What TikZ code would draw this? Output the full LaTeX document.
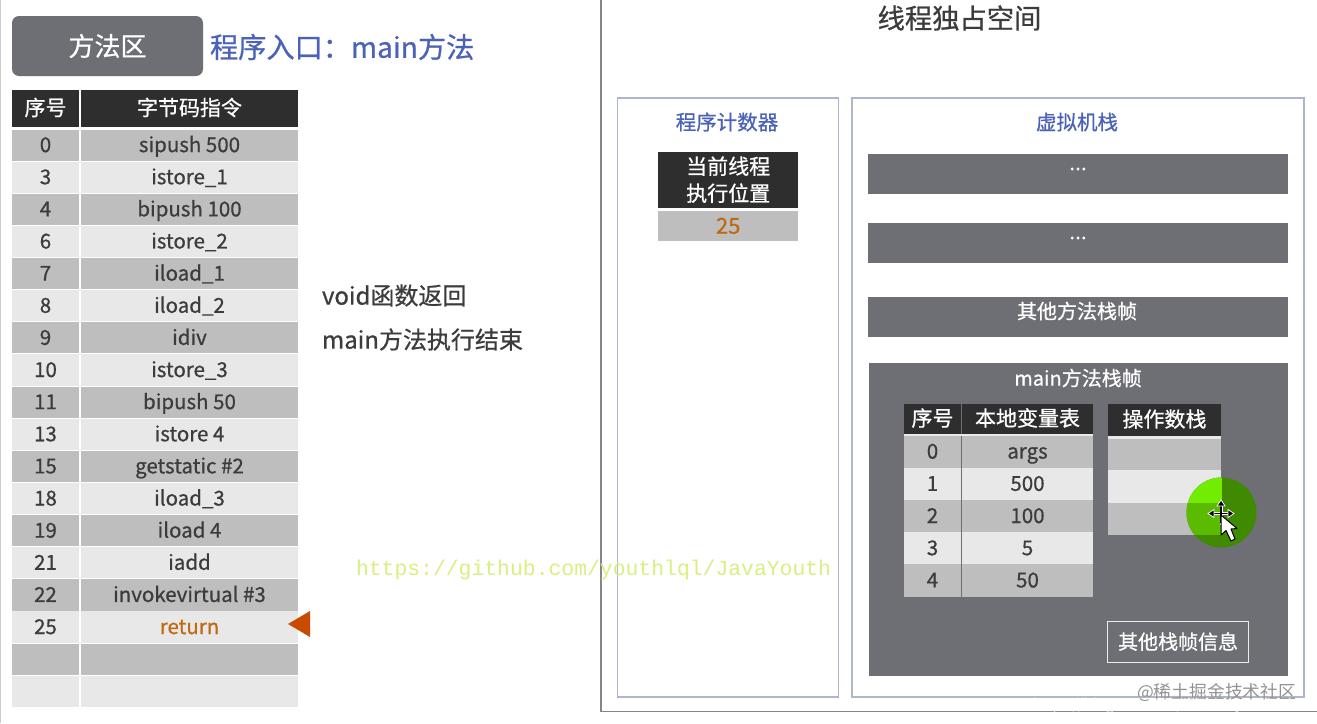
\documentclass[tikz,border=0pt]{standalone}
\usepackage{fontspec}
\setmainfont[RawFeature={embolden=0.7}]{Noto Sans CJK SC}
\newfontfamily\monof{Liberation Mono}
\newfontfamily\wmfont{Noto Sans CJK SC}
\definecolor{hdr}{HTML}{2E2E2E}
\definecolor{rowd}{HTML}{BEBEBE}
\definecolor{rowl}{HTML}{E8E8E8}
\definecolor{frame}{HTML}{6E6F75}
\definecolor{ink}{HTML}{3C3C3C}
\definecolor{bluet}{HTML}{4A62B8}
\definecolor{orangeT}{HTML}{BF6A10}
\definecolor{arrowc}{HTML}{C84B00}
\definecolor{boxline}{HTML}{AEB6CE}
\definecolor{outerl}{HTML}{85858A}
\definecolor{gbright}{HTML}{72EC00}
\definecolor{gmid}{HTML}{5BBB00}
\definecolor{gdark}{HTML}{3F8A00}
\definecolor{ghub}{HTML}{D8F080}
\tikzset{
 x=1pt,y=-1pt,
 grey/.style={inner sep=0pt,outer sep=0pt,anchor=north west,fill=frame,text=white,font=\fontsize{19}{22}\selectfont},
 panel/.style={draw=boxline,line width=1.2pt,inner sep=0pt,outer sep=0pt,anchor=north west,fill=white},
 lbl/.style={inner sep=0pt,outer sep=0pt},
}
\newcommand{\tb}[7]{% name x y w h fill text
 \node[inner sep=0pt,outer sep=0pt,anchor=north west,fill=#6,minimum width=#4,minimum height=#5,text height=14pt,text depth=0pt,text=ink,font=\fontsize{20.5}{24}\selectfont] (#1) at (#2,#3) {#7};}
\begin{document}
\begin{tikzpicture}
\useasboundingbox (0,0) rectangle (1317,723);
\fill[white] (0,0) rectangle (1317,723);
\draw[color=gray!40,line width=1pt] (0.5,0) -- (0.5,723);
% method area title
\node[grey,rounded corners=7pt,minimum width=191pt,minimum height=60pt,font=\fontsize{26}{28}\selectfont] (ma) at (12,16) {方法区};
\node[lbl,anchor=west,text=bluet,font=\fontsize{28.2}{30}\selectfont] (entry) at (210,47) {程序入口：main方法};
% bytecode table
\tb{hA}{12}{90}{67pt}{37pt}{hdr}{\textcolor{white}{\fontsize{21}{24}\selectfont 序号}}
\tb{hB}{81}{90}{217pt}{37pt}{hdr}{\textcolor{white}{\fontsize{21}{24}\selectfont 字节码指令}}
\foreach \n/\t [count=\i from 0] in {0/sipush 500,3/istore\_1,4/bipush 100,6/istore\_2,7/iload\_1,8/iload\_2,9/idiv,10/istore\_3,11/bipush 50,13/istore 4,15/getstatic \#2,18/iload\_3,19/iload 4,21/iadd,22/invokevirtual \#3,25/\textcolor{orangeT}{return},{}/{},{}/{}}{
 \pgfmathsetmacro{\yy}{129.5+32.13*\i}
 \pgfmathtruncatemacro{\odd}{mod(\i,2)}
 \ifnum\odd=0 \def\cc{rowd}\else\def\cc{rowl}\fi
 \tb{n\i}{12}{\yy}{67pt}{31.2pt}{\cc}{\n}
 \tb{t\i}{81}{\yy}{217pt}{31.2pt}{\cc}{\t}
}
\path[fill=arrowc] (288,624) -- (310,611) -- (310,637) -- cycle;
% side text
\node[lbl,anchor=west,text=ink,font=\fontsize{24}{28}\selectfont] (v1) at (322,295.5) {void函数返回};
\node[lbl,anchor=west,text=ink,font=\fontsize{24}{28}\selectfont] (v2) at (322,339.5) {main方法执行结束};
% outer thread frame
\draw[outerl,line width=1.4pt] (601,0) -- (601,711.5) -- (1317,711.5);
\node[lbl,text=ink,font=\fontsize{27.3}{30}\selectfont] (ts) at (959.5,18) {线程独占空间};
% panels
\node[panel,minimum width=221pt,minimum height=599pt] (pcp) at (617.5,98) {};
\node[panel,minimum width=452pt,minimum height=599pt] (vmp) at (852,98) {};
\node[lbl,text=bluet,font=\fontsize{20.5}{24}\selectfont] (pct) at (727,122) {程序计数器};
\node[lbl,text=bluet,font=\fontsize{20.5}{24}\selectfont] (vmt) at (1077,122) {虚拟机栈};
% pc cell
\node[inner sep=0pt,anchor=north west,fill=hdr,text=white,minimum width=140pt,minimum height=56pt,align=center,font=\fontsize{21}{27}\selectfont] (cur) at (658,151.5) {当前线程\\执行位置};
\node[inner sep=0pt,anchor=north west,fill=rowd,text=orangeT,minimum width=140pt,minimum height=30pt,text height=16pt,text depth=0pt,font=\fontsize{22}{24}\selectfont] (val) at (658,210.5) {25};
% stack frames
\node[grey,minimum width=420pt,minimum height=40pt] (f1) at (868,154) {};
\node[lbl,text=white,font=\fontsize{21}{22}\selectfont] (d1) at (1078,169) {...};
\node[grey,minimum width=420pt,minimum height=40pt] (f2) at (868,223) {};
\node[lbl,text=white,font=\fontsize{21}{22}\selectfont] (d2) at (1078,238) {...};
\node[grey,minimum width=420pt,minimum height=40pt] (f3) at (868,297) {};
\node[lbl,text=white,font=\fontsize{20}{22}\selectfont] (f3t) at (1077,311) {其他方法栈帧};
\node[grey,minimum width=419pt,minimum height=313pt] (mf) at (869,363) {};
\node[lbl,text=white,font=\fontsize{20}{22}\selectfont] (mft) at (1078,378) {main方法栈帧};
% locals
\tb{lA}{904}{404}{57pt}{30pt}{hdr}{\textcolor{white}{\fontsize{21}{24}\selectfont 序号}}
\tb{lB}{962}{404}{131pt}{30pt}{hdr}{\textcolor{white}{\fontsize{21}{24}\selectfont 本地变量表}}
\fill[rowl] (904,434) rectangle (1093,436);
\foreach \n/\t [count=\i from 0] in {0/args,1/500,2/100,3/5,4/50}{
 \pgfmathsetmacro{\yy}{435.5+32.2*\i}
 \pgfmathtruncatemacro{\odd}{mod(\i,2)}
 \ifnum\odd=0 \def\cc{rowd}\else\def\cc{rowl}\fi
 \tb{ln\i}{904}{\yy}{57pt}{32.2pt}{\cc}{\n}
 \tb{lt\i}{962}{\yy}{131pt}{32.2pt}{\cc}{\t}
}
% operand stack
\tb{oh}{1108}{404}{113pt}{32pt}{hdr}{\textcolor{white}{\fontsize{21}{24}\selectfont 操作数栈}}
\fill[rowl] (1108,436) rectangle (1221,439);
\tb{o0}{1108}{439}{113pt}{31pt}{rowd}{}
\tb{o1}{1108}{470}{113pt}{33pt}{rowl}{}
\tb{o2}{1108}{503}{113pt}{31.5pt}{rowd}{}
% other frame info
\node[draw=white!85!gray,line width=1.2pt,inner sep=0pt,anchor=north west,minimum width=141pt,minimum height=41pt,text=white,font=\fontsize{20}{22}\selectfont] (oi) at (1107,620.5) {其他栈帧信息};
% cursor highlight
\begin{scope}
\clip (1221.5,512.5) circle (35pt);
\fill[gdark] (1180,470) rectangle (1262,556);
\fill[gbright] (1180,470) rectangle (1221.5,503);
\fill[gmid] (1180,503) rectangle (1221.5,534.5);
\end{scope}
% move cross
\draw[white,line width=3pt] (1209,513.5) -- (1233,513.5) (1221,501) -- (1221,525);
\draw[black,line width=1.2pt] (1211,513.5) -- (1231,513.5) (1221,503) -- (1221,523);
\fill[black,draw=white,line width=.7pt] (1221,500) -- (1225,506) -- (1217,506) -- cycle;
\fill[black,draw=white,line width=.7pt] (1208,513.5) -- (1214,509.5) -- (1214,517.5) -- cycle;
\fill[black,draw=white,line width=.7pt] (1234,513.5) -- (1228,509.5) -- (1228,517.5) -- cycle;
% pointer
\draw[black,fill=white,line width=1pt,line join=round] (1221,515) -- (1221,535) -- (1226,530.5) -- (1231,541) -- (1235,539) -- (1231,529) -- (1237,528.5) -- cycle;
% watermarks
\node[lbl,anchor=west,text=ghub,font=\monof\fontsize{21.4}{24}\selectfont] (gh) at (356,570) {https://github.com/youthlql/JavaYouth};
\node[lbl,anchor=west,text=gray!85,font=\wmfont\fontsize{17.8}{20}\selectfont] (wm1) at (1137,692) {@稀土掘金技术社区};
\node[lbl,anchor=west,text=white,opacity=.75,font=\wmfont\fontsize{14.6}{16}\selectfont] (wm2) at (1033,706) {https://blog.csdn.net/Mr\_tianyanxiaobai};
\end{tikzpicture}
\end{document}
